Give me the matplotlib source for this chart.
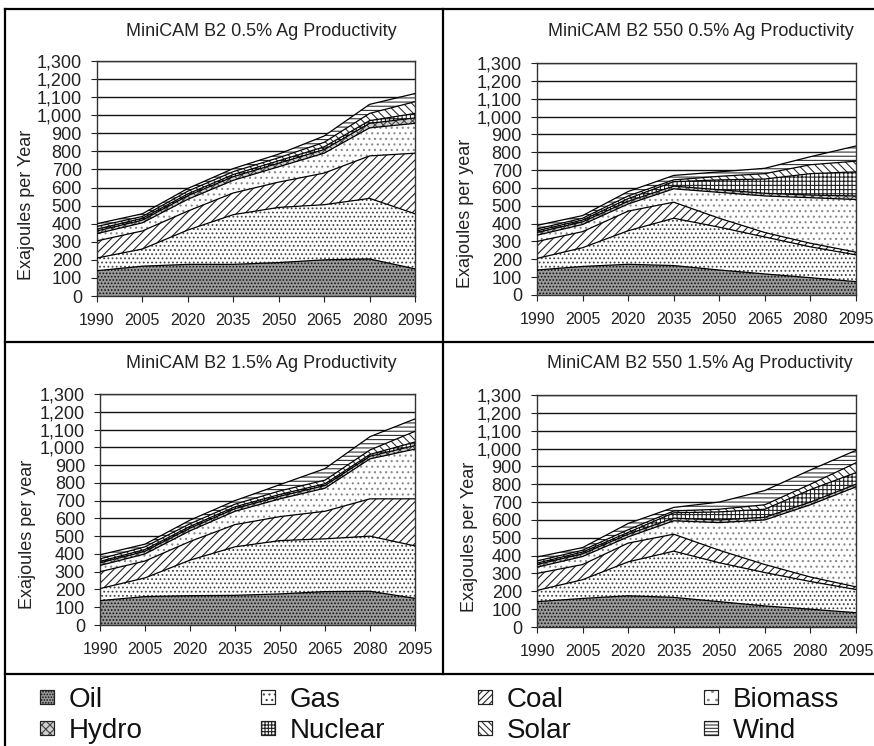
import numpy as np
import matplotlib
matplotlib.use("Agg")
import matplotlib.pyplot as plt
from matplotlib.patches import Rectangle
from matplotlib.lines import Line2D
from matplotlib.ticker import FuncFormatter

plt.rcParams['font.family'] = ['Liberation Sans', 'DejaVu Sans']
plt.rcParams['hatch.linewidth'] = 0.8

W, H = 874, 746

years = [1990, 2005, 2020, 2035, 2050, 2065, 2080, 2095]
sources = ["Oil", "Gas", "Coal", "Biomass", "Hydro", "Nuclear", "Solar", "Wind"]
yticks = list(range(0, 1301, 100))

# upper edge of each stacked band (EJ/yr), Oil first
b2_05 = [
    [140, 165, 175, 175, 185, 200, 205, 150],
    [210, 260, 365, 450, 490, 505, 540, 455],
    [305, 360, 470, 570, 630, 680, 775, 790],
    [345, 405, 535, 640, 715, 790, 930, 955],
    [360, 420, 555, 660, 735, 810, 955, 985],
    [370, 430, 565, 672, 748, 825, 970, 1010],
    [385, 440, 580, 688, 765, 850, 1010, 1075],
    [400, 455, 595, 705, 785, 885, 1060, 1120],
]
b2_550_05 = [
    [140, 160, 172, 165, 140, 118, 97, 75],
    [205, 265, 360, 430, 380, 325, 270, 225],
    [300, 355, 470, 520, 430, 350, 290, 240],
    [335, 395, 510, 595, 575, 555, 545, 535],
    [350, 410, 525, 610, 590, 570, 560, 555],
    [360, 420, 540, 635, 645, 650, 680, 690],
    [370, 430, 555, 645, 665, 680, 730, 750],
    [390, 445, 580, 670, 690, 710, 775, 835],
]
b2_15 = [
    [137, 160, 165, 167, 175, 188, 190, 150],
    [205, 265, 365, 440, 475, 485, 500, 445],
    [300, 360, 470, 565, 610, 640, 710, 710],
    [335, 400, 530, 640, 710, 770, 935, 990],
    [350, 415, 545, 655, 725, 785, 950, 1010],
    [358, 425, 555, 665, 735, 795, 960, 1030],
    [372, 440, 570, 680, 755, 815, 985, 1090],
    [395, 455, 590, 700, 790, 880, 1060, 1160],
]
b2_550_15 = [
    [142, 160, 175, 166, 142, 118, 100, 80],
    [205, 265, 365, 425, 360, 305, 255, 210],
    [300, 350, 470, 520, 430, 350, 280, 225],
    [335, 395, 505, 595, 585, 600, 685, 785],
    [350, 410, 520, 610, 600, 615, 700, 800],
    [358, 420, 530, 640, 645, 660, 770, 865],
    [370, 430, 545, 650, 660, 685, 800, 920],
    [392, 445, 580, 670, 700, 765, 880, 990],
]

# face colour, hatch, hatch colour, legend-box hatch for each source
styles = {
    "Oil":     ("#9a9a9a", ".....", "#111111", "......"),
    "Gas":     ("white", "....", "#444444", "..."),
    "Coal":    ("white", "////", "#222222", "/////"),
    "Biomass": ("white", "...", "#888888", ".."),
    "Hydro":   ("#cfcfcf", "xxxx", "#444444", "xxxx"),
    "Nuclear": ("white", "++++", "#222222", "+++++"),
    "Solar":   ("white", "\\\\\\\\", "#333333", "\\\\\\\\\\"),
    "Wind":    ("white", "----", "#333333", "-----"),
}

fig = plt.figure(figsize=(W / 100, H / 100), dpi=100)


def rect(l, t, r, b):
    return [l / W, 1 - b / H, (r - l) / W, (b - t) / H]


def fx(x):
    return x / W


def fy(y):
    return 1 - y / H


panels = [
    (b2_05, "MiniCAM B2 0.5% Ag Productivity", "Exajoules per Year",
     (97, 61, 415, 296), (261, 32), (27, 205)),
    (b2_550_05, "MiniCAM B2 550 0.5% Ag Productivity", "Exajoules per year",
     (537, 63, 856, 295), (701, 32), (465, 213)),
    (b2_15, "MiniCAM B2 1.5% Ag Productivity", "Exajoules per year",
     (100, 394, 415, 625), (261, 363), (28, 534)),
    (b2_550_15, "MiniCAM B2 550 1.5% Ag Productivity", "Exajoules per Year",
     (537, 395, 856, 627), (700, 363), (469, 537)),
]

for tops, title, ylab, box, tpos, ypos in panels:
    ax = fig.add_axes(rect(*box))
    tops = np.array(tops, dtype=float)
    vals = np.diff(np.vstack([np.zeros(len(years)), tops]), axis=0)
    polys = ax.stackplot(years, *vals, linewidth=0, zorder=2)
    for poly, name in zip(polys, sources):
        face, hatch, hc, _ = styles[name]
        poly.set_facecolor(face)
        poly.set_edgecolor(hc)
        poly.set_hatch(hatch)
        poly.set_linewidth(0)
    for row in tops:
        ax.plot(years, row, color="black", lw=0.9, zorder=3)

    ax.set_xlim(years[0], years[-1])
    ax.set_ylim(0, 1300)
    ax.set_xticks(years)
    ax.set_yticks(yticks)
    ax.yaxis.set_major_formatter(FuncFormatter(lambda v, p: f"{int(v):,}"))
    ax.grid(axis="y", color="#111111", lw=1.0, zorder=0)
    ax.set_axisbelow(True)
    ax.tick_params(axis="x", length=4.3, width=0.8, direction="out",
                   labelsize=11.5, pad=8, colors="#222222")
    ax.tick_params(axis="y", length=4.3, width=0.8, direction="out",
                   labelsize=13, pad=6.5, colors="#222222")
    for s in ax.spines.values():
        s.set_color("#333333")
        s.set_linewidth(1.0)

    fig.text(fx(tpos[0]), fy(tpos[1]), title, ha="center", va="center",
             fontsize=13, color="#222222")
    fig.text(fx(ypos[0]), fy(ypos[1]), ylab, ha="center", va="center",
             rotation=90, fontsize=13, color="#222222")

# panel frame
frame = [
    ((5, 874), (9, 9)),
    ((5, 5), (9, 746)),
    ((443, 443), (9, 674)),
    ((5, 874), (342, 342)),
    ((5, 874), (674, 674)),
]
for xs, ys in frame:
    fig.add_artist(Line2D([fx(x) for x in xs], [fy(y) for y in ys],
                          color="black", lw=1.6, transform=fig.transFigure))

# legend
legend_cols = [40, 261, 478, 704]
legend_rows = [707, 738]
for i, name in enumerate(sources):
    px = legend_cols[i % 4]
    base = legend_rows[i // 4]
    face, _, hc, lhatch = styles[name]
    fig.add_artist(Rectangle((fx(px), fy(base - 3)), 14 / W, 14 / H,
                             transform=fig.transFigure, facecolor=face,
                             edgecolor=hc, hatch=lhatch, lw=0.8))
    fig.add_artist(Rectangle((fx(px), fy(base - 3)), 14 / W, 14 / H,
                             transform=fig.transFigure, facecolor="none",
                             edgecolor="#222222", lw=0.8))
    fig.text(fx(px + 29), fy(base), name, ha="left", va="baseline",
             fontsize=20, color="#111111")

fig.savefig("out.png", dpi=100)
